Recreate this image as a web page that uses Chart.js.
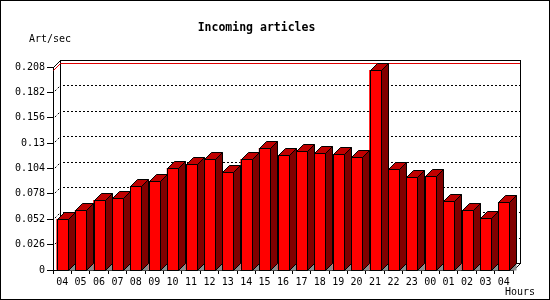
<!DOCTYPE html>
<html>
<head>
<meta charset="utf-8">
<script src="https://cdn.jsdelivr.net/npm/chart.js@4"></script>
<style>
  html, body { margin: 0; padding: 0; background: #fff; }
  canvas { display: block; }
</style>
</head>
<body>
<canvas id="chart" width="550" height="300"></canvas>
<script>
// hourly incoming article rate, art/sec
const hours = ['04','05','06','07','08','09','10','11','12','13','14','15','16',
               '17','18','19','20','21','22','23','00','01','02','03','04'];
const articles = [0.052, 0.061, 0.0714, 0.0734, 0.0857, 0.0909, 0.1042, 0.1083, 0.1134,
                  0.1001, 0.1134, 0.1247, 0.1175, 0.1216, 0.1196, 0.1185, 0.1155, 0.2046,
                  0.1032, 0.095, 0.096, 0.071, 0.061, 0.053, 0.0694];
const yTicks = [0, 0.026, 0.052, 0.078, 0.104, 0.13, 0.156, 0.182, 0.208];
const yTickLabels = ['0','0.026','0.052','0.078','0.104','0.13','0.156','0.182','0.208'];

const DEPTH = 7;
const FRONT_W = 11;

Chart.defaults.color = '#000';
Chart.defaults.font.family = "'DejaVu Sans Mono', monospace";
Chart.defaults.font.size = 10;

const bars3d = {
  id: 'bars3d',
  beforeDatasetsDraw(chart) {
    const ctx = chart.ctx;
    const a = chart.chartArea;
    const y = chart.scales.y;
    const L = Math.round(a.left), R = Math.round(a.right);
    const T = Math.round(a.top), B = Math.round(a.bottom);
    ctx.save();
    ctx.lineWidth = 1;
    ctx.strokeStyle = '#000';
    // back wall
    ctx.strokeRect(L + DEPTH + 0.5, T - DEPTH + 0.5, R - L, B - T);
    // left wall top edge and floor right edge
    ctx.beginPath();
    ctx.moveTo(L + 0.5, T + 0.5); ctx.lineTo(L + DEPTH + 0.5, T - DEPTH + 0.5);
    ctx.moveTo(R + 0.5, B + 0.5); ctx.lineTo(R + DEPTH + 0.5, B - DEPTH + 0.5);
    ctx.stroke();
    // dotted grid on back wall and side wall
    ctx.setLineDash([2, 2]);
    yTicks.forEach((v, i) => {
      if (i === 0 || i === yTicks.length - 1) return;
      const py = Math.round(y.getPixelForValue(v));
      ctx.beginPath();
      ctx.moveTo(L + DEPTH + 3, py - DEPTH + 0.5);
      ctx.lineTo(R + DEPTH, py - DEPTH + 0.5);
      ctx.stroke();
      ctx.beginPath();
      ctx.lineDashOffset = 2;
      ctx.moveTo(L + 0.5, py + 0.5);
      ctx.lineTo(L + DEPTH + 0.5, py - DEPTH + 0.5);
      ctx.stroke();
      ctx.lineDashOffset = 0;
    });
    ctx.setLineDash([]);
    // max line
    const my = Math.round(y.getPixelForValue(Math.max(...articles)));
    ctx.strokeStyle = '#e00000';
    ctx.beginPath();
    ctx.moveTo(L + 0.5, my + 0.5);
    ctx.lineTo(L + DEPTH + 0.5, my - DEPTH + 0.5);
    ctx.lineTo(R + DEPTH, my - DEPTH + 0.5);
    ctx.stroke();
    ctx.restore();
  },
  afterDatasetsDraw(chart) {
    const ctx = chart.ctx;
    const meta = chart.getDatasetMeta(0);
    ctx.save();
    ctx.lineWidth = 1;
    ctx.strokeStyle = '#000';
    meta.data.forEach(bar => {
      const p = bar.getProps(['x', 'y', 'base'], true);
      const x0 = Math.round(p.x - FRONT_W / 2);
      const x1 = x0 + FRONT_W;
      const yt = Math.round(p.y);
      const yb = Math.round(p.base);
      // floor shadow
      ctx.fillStyle = '#8c8c8c';
      ctx.beginPath();
      ctx.moveTo(x1 + 0.5, yb + 0.5);
      ctx.lineTo(x1 + DEPTH + 0.5, yb - DEPTH + 0.5);
      ctx.lineTo(x1 + DEPTH + 0.5, yb + 0.5);
      ctx.closePath();
      ctx.fill();
      // front
      ctx.fillStyle = '#ff0000';
      ctx.fillRect(x0, yt, FRONT_W, yb - yt);
      ctx.strokeRect(x0 + 0.5, yt + 0.5, FRONT_W, yb - yt);
      // side
      ctx.fillStyle = '#800000';
      ctx.beginPath();
      ctx.moveTo(x1 + 0.5, yt + 0.5);
      ctx.lineTo(x1 + DEPTH + 0.5, yt - DEPTH + 0.5);
      ctx.lineTo(x1 + DEPTH + 0.5, yb - DEPTH + 0.5);
      ctx.lineTo(x1 + 0.5, yb + 0.5);
      ctx.closePath();
      ctx.fill();
      ctx.stroke();
      // top
      ctx.fillStyle = '#c00000';
      ctx.beginPath();
      ctx.moveTo(x0 + 0.5, yt + 0.5);
      ctx.lineTo(x0 + DEPTH + 0.5, yt - DEPTH + 0.5);
      ctx.lineTo(x1 + DEPTH + 0.5, yt - DEPTH + 0.5);
      ctx.lineTo(x1 + 0.5, yt + 0.5);
      ctx.closePath();
      ctx.fill();
      ctx.stroke();
    });
    ctx.restore();
  },
  afterDraw(chart) {
    const ctx = chart.ctx;
    ctx.save();
    ctx.fillStyle = '#000';
    ctx.font = "10px 'DejaVu Sans Mono', monospace";
    ctx.textBaseline = 'middle';
    ctx.textAlign = 'left';
    ctx.fillText('Art/sec', 29, 39);
    ctx.fillText('Hours', 505, 292);
    ctx.strokeStyle = '#000';
    ctx.lineWidth = 1;
    ctx.strokeRect(0.5, 0.5, chart.width - 1, chart.height - 1);
    ctx.restore();
  }
};

new Chart(document.getElementById('chart'), {
  type: 'bar',
  data: {
    labels: hours,
    datasets: [{
      label: 'Incoming articles',
      data: articles,
      backgroundColor: '#ff0000',
      borderWidth: 0,
      barThickness: FRONT_W
    }]
  },
  options: {
    responsive: false,
    devicePixelRatio: 1,
    animation: false,
    layout: { padding: { left: 0, right: 37, top: 0, bottom: 0 } },
    plugins: {
      legend: { display: false },
      tooltip: { enabled: false },
      title: {
        display: true,
        text: 'Incoming articles',
        color: '#000',
        font: { size: 11.5, weight: 'bold' },
        padding: { top: 21, bottom: 32.2 }
      }
    },
    scales: {
      x: {
        offset: true,
        grid: { offset: true, drawOnChartArea: false, tickLength: 4, color: '#000' },
        border: { color: '#000' },
        ticks: { maxRotation: 0, autoSkip: false, padding: 2, color: '#000' },
        afterFit(scale) { scale.height = 30; }
      },
      y: {
        min: 0,
        max: 0.208,
        afterBuildTicks(scale) { scale.ticks = yTicks.map(v => ({ value: v })); },
        grid: { drawOnChartArea: false, tickLength: 6, color: '#000' },
        border: { color: '#000' },
        ticks: {
          padding: 2,
          color: '#000',
          callback: (v, i) => yTickLabels[i]
        },
        afterFit(scale) { scale.width = 53; }
      }
    }
  },
  plugins: [bars3d]
});
</script>
</body>
</html>
